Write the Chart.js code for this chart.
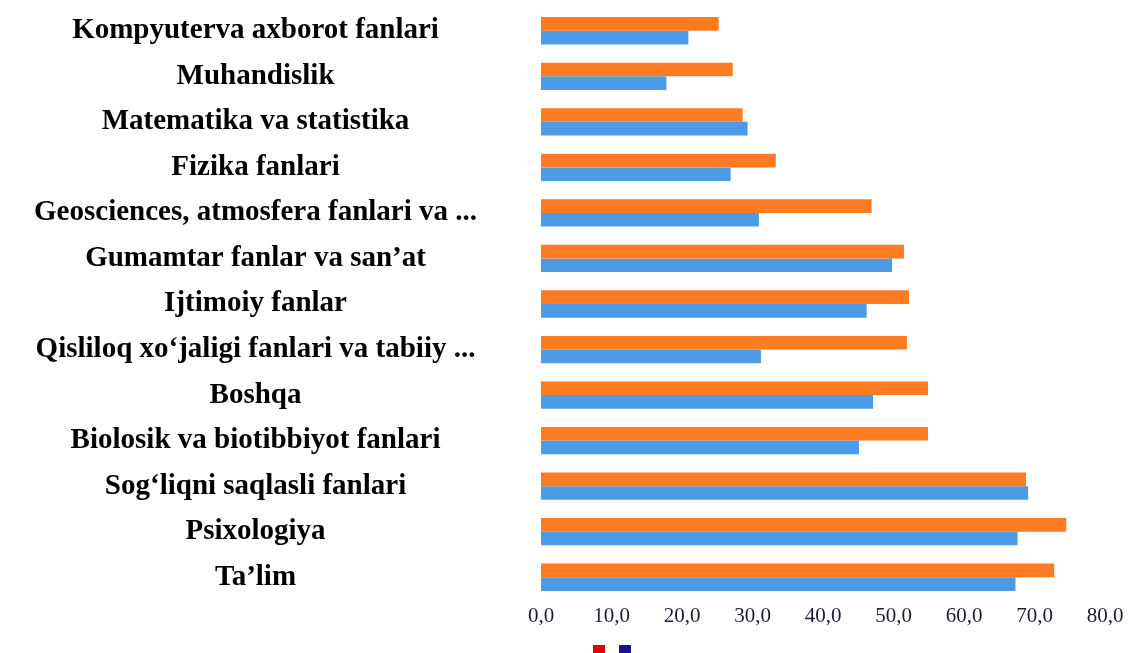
<!DOCTYPE html>
<html>
<head>
<meta charset="utf-8">
<script src="https://cdn.jsdelivr.net/npm/chart.js@4"></script>
<style>
  html, body { margin: 0; padding: 0; background: #fff; }
  .wrap { width: 1132px; height: 653px; }
</style>
</head>
<body>
<div class="wrap"><canvas class="barChart"></canvas></div>
<script>
const categories = [
  "Kompyuterva axborot fanlari",
  "Muhandislik",
  "Matematika va statistika",
  "Fizika fanlari",
  "Geosciences, atmosfera fanlari va ...",
  "Gumamtar fanlar va san’at",
  "Ijtimoiy fanlar",
  "Qisliloq xo‘jaligi fanlari va tabiiy ...",
  "Boshqa",
  "Biolosik va biotibbiyot fanlari",
  "Sog‘liqni saqlasli fanlari",
  "Psixologiya",
  "Ta’lim",
];
const seriesOrange = [25.2, 27.2, 28.6, 33.3, 46.9, 51.5, 52.2, 51.9, 54.9, 54.9, 68.8, 74.5, 72.8];
const seriesBlue = [20.9, 17.8, 29.3, 26.9, 30.9, 49.8, 46.2, 31.2, 47.1, 45.1, 69.1, 67.6, 67.3];
const xTicks = [0, 10, 20, 30, 40, 50, 60, 70, 80];
const legendColors = ["#e0000c", "#1c0f96"];

const ctx = document.querySelector(".barChart").getContext("2d");

// small squares under the axis, like the cropped legend in the original
const legendBoxes = {
  id: "legendBoxes",
  afterDraw(chart) {
    const { ctx, chartArea } = chart;
    ctx.save();
    legendColors.forEach((c, i) => {
      ctx.fillStyle = c;
      ctx.fillRect(chartArea.left + 52 + i * 26, chartArea.bottom + 45, 12, 10);
    });
    ctx.restore();
  },
};

const chart = new Chart(ctx, {
  type: "bar",
  data: {
    labels: categories,
    datasets: [
      {
        label: "A",
        data: seriesOrange,
        backgroundColor: "#ff7b22",
        categoryPercentage: 0.6,
        barPercentage: 1.0,
      },
      {
        label: "B",
        data: seriesBlue,
        backgroundColor: "#4b9be6",
        categoryPercentage: 0.6,
        barPercentage: 1.0,
      },
    ],
  },
  options: {
    indexAxis: "y",
    responsive: true,
    maintainAspectRatio: false,
    animation: false,
    layout: { padding: { top: 8, right: 27, bottom: 0, left: 0 } },
    scales: {
      x: {
        min: 0,
        max: 80,
        afterBuildTicks: (scale) => {
          scale.ticks = xTicks.map((v) => ({ value: v }));
        },
        afterFit: (scale) => {
          scale.height = 53;
        },
        grid: { display: false, drawTicks: false },
        border: { display: false },
        ticks: {
          padding: 4,
          color: "#1d1d30",
          font: { family: "Liberation Serif", size: 21 },
          callback: (v) => Number(v).toFixed(1).replace(".", ","),
        },
      },
      y: {
        afterFit: (scale) => {
          scale.width = 541;
          // the big label padding should not eat vertical room
          scale.paddingTop = 0;
          scale.paddingBottom = 0;
        },
        grid: { display: false, drawTicks: false },
        border: { display: false },
        ticks: {
          crossAlign: "center",
          padding: 64,
          color: "#000",
          font: { family: "Liberation Serif", size: 29, weight: "bold" },
        },
      },
    },
    plugins: {
      legend: { display: false },
      tooltip: { enabled: false },
    },
  },
  plugins: [legendBoxes],
});
</script>
</body>
</html>
